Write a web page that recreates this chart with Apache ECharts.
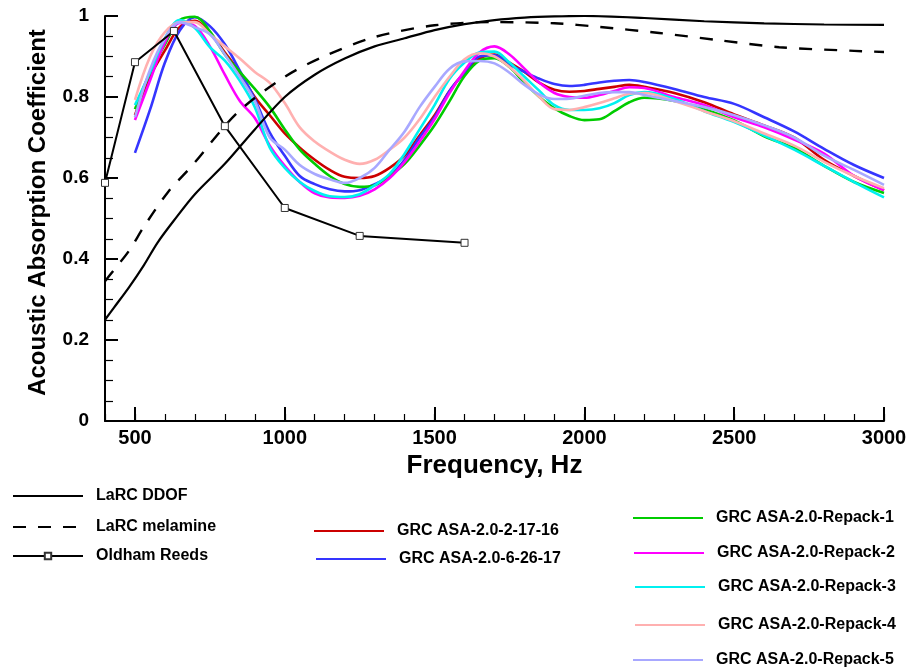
<!DOCTYPE html>
<html>
<head>
<meta charset="utf-8">
<script src="https://cdn.jsdelivr.net/npm/echarts@6/dist/echarts.min.js"></script>
<style>
  html, body { margin: 0; padding: 0; background: #fff; }
  #chart { width: 912px; height: 669px; }
</style>
</head>
<body>
<div id="chart"></div>
<script>
// Frequency grid (Hz) shared by the GRC ASA-2.0 measurements
const grcFreq = [500, 550, 600, 650, 700, 750, 800, 850, 900, 950, 1000, 1050, 1100, 1150, 1200, 1250,
  1300, 1350, 1400, 1450, 1500, 1550, 1600, 1650, 1700, 1750, 1800, 1850, 1900, 1950, 2000, 2050,
  2100, 2150, 2200, 2300, 2400, 2500, 2600, 2700, 2800, 2900, 3000];

const grc21716 = [0.755, 0.85, 0.915, 0.973, 0.988, 0.958, 0.91, 0.86, 0.80, 0.755, 0.71, 0.675, 0.645, 0.62, 0.603, 0.600,
  0.605, 0.625, 0.655, 0.705, 0.755, 0.815, 0.86, 0.895, 0.905, 0.885, 0.862, 0.835, 0.818, 0.813, 0.815, 0.82,
  0.825, 0.83, 0.825, 0.81, 0.787, 0.757, 0.73, 0.70, 0.645, 0.605, 0.57];

const grc62617 = [0.662, 0.768, 0.885, 0.965, 0.997, 0.975, 0.93, 0.865, 0.795, 0.712, 0.655, 0.605, 0.585, 0.572, 0.567, 0.570,
  0.585, 0.605, 0.645, 0.70, 0.75, 0.815, 0.86, 0.90, 0.903, 0.88, 0.862, 0.845, 0.832, 0.827, 0.83, 0.836,
  0.84, 0.842, 0.837, 0.82, 0.80, 0.783, 0.75, 0.715, 0.672, 0.632, 0.60];

const repack1 = [0.77, 0.86, 0.93, 0.99, 0.998, 0.962, 0.905, 0.862, 0.82, 0.775, 0.72, 0.67, 0.635, 0.605, 0.585, 0.578,
  0.582, 0.605, 0.635, 0.68, 0.73, 0.79, 0.852, 0.89, 0.896, 0.874, 0.835, 0.80, 0.772, 0.753, 0.743, 0.745,
  0.765, 0.787, 0.798, 0.79, 0.77, 0.742, 0.703, 0.674, 0.63, 0.59, 0.563];

const repack2 = [0.743, 0.84, 0.935, 0.983, 0.975, 0.925, 0.855, 0.79, 0.748, 0.68, 0.63, 0.59, 0.562, 0.552, 0.551, 0.556,
  0.572, 0.60, 0.64, 0.69, 0.745, 0.81, 0.865, 0.91, 0.925, 0.905, 0.87, 0.835, 0.81, 0.80, 0.798, 0.805,
  0.815, 0.824, 0.822, 0.80, 0.78, 0.75, 0.725, 0.695, 0.66, 0.605, 0.57];

const repack3 = [0.78, 0.86, 0.945, 0.99, 0.97, 0.923, 0.89, 0.84, 0.775, 0.675, 0.625, 0.59, 0.568, 0.555, 0.553, 0.56,
  0.582, 0.61, 0.66, 0.72, 0.78, 0.845, 0.885, 0.91, 0.912, 0.885, 0.85, 0.815, 0.78, 0.768, 0.768, 0.772,
  0.785, 0.805, 0.812, 0.795, 0.765, 0.738, 0.705, 0.67, 0.63, 0.59, 0.552];

const repack4 = [0.793, 0.899, 0.96, 0.985, 0.985, 0.955, 0.925, 0.895, 0.862, 0.835, 0.785, 0.725, 0.69, 0.665, 0.645, 0.635,
  0.645, 0.67, 0.70, 0.745, 0.80, 0.85, 0.893, 0.908, 0.90, 0.874, 0.84, 0.80, 0.77, 0.768, 0.775, 0.785,
  0.797, 0.808, 0.81, 0.79, 0.765, 0.74, 0.71, 0.68, 0.64, 0.605, 0.575];

const repack5 = [0.75, 0.867, 0.945, 0.985, 0.972, 0.955, 0.905, 0.85, 0.79, 0.70, 0.67, 0.632, 0.61, 0.597, 0.588, 0.60,
  0.625, 0.67, 0.715, 0.775, 0.825, 0.87, 0.888, 0.889, 0.883, 0.86, 0.83, 0.806, 0.795, 0.796, 0.803, 0.81,
  0.812, 0.812, 0.805, 0.79, 0.775, 0.755, 0.73, 0.70, 0.655, 0.62, 0.583];

// LaRC reference liners
const ddofFreq = [400, 430, 480, 530, 575, 630, 700, 800, 900, 1000, 1100, 1200, 1300, 1400, 1500, 1600,
  1700, 1800, 1900, 2000, 2200, 2400, 2600, 2800, 3000];
const ddofVals = [0.25, 0.28, 0.33, 0.385, 0.44, 0.495, 0.56, 0.635, 0.72, 0.80, 0.855, 0.895, 0.925, 0.945, 0.965, 0.98,
  0.99, 0.996, 0.999, 1.0, 0.995, 0.987, 0.982, 0.979, 0.978];

const melFreq = [400, 430, 480, 530, 610, 690, 840, 1000, 1130, 1300, 1500, 1700, 1900, 2050, 2250, 2450, 2650, 2900, 3000];
const melVals = [0.345, 0.373, 0.42, 0.48, 0.565, 0.63, 0.76, 0.85, 0.90, 0.948, 0.977, 0.985, 0.982, 0.973, 0.958, 0.94, 0.923, 0.914, 0.911];

// Oldham reeds, one-third octave bands
const reedFreq = [400, 500, 630, 800, 1000, 1250, 1600];
const reedVals = [0.588, 0.886, 0.963, 0.728, 0.526, 0.457, 0.44];

const xMajorTicks = [500, 1000, 1500, 2000, 2500, 3000];

const FONT = 'Liberation Sans';

function pairs(xs, ys) { return xs.map((x, i) => [x, ys[i]]); }

function grcSeries(name, vals, color) {
  return {
    name: name, type: 'line', data: pairs(grcFreq, vals),
    smooth: 0.35, symbol: 'none', z: 2,
    lineStyle: { color: color, width: 2.6 },
    itemStyle: { color: color }
  };
}

// One legend entry placed at (left, centre y); plain lines hide the legend marker
function legendEntry(name, left, cy, withMarker) {
  const item = { name: name };
  if (!withMarker) item.itemStyle = { opacity: 0 };
  return {
    orient: 'vertical', left: left, top: cy - 7, padding: 0,
    itemWidth: 70, itemHeight: 8, selectedMode: false,
    textStyle: { fontFamily: FONT, fontWeight: 'bold', fontSize: 16, color: '#000', padding: [0, 0, 0, 8] },
    data: [item]
  };
}

const chart = echarts.init(document.getElementById('chart'), null, { renderer: 'canvas' });

chart.setOption({
  animation: false,
  backgroundColor: '#fff',
  grid: { left: 105, right: 28, top: 16, bottom: 248, containLabel: false },
  xAxis: [{
    type: 'value', min: 400, max: 3000,
    name: 'Frequency, Hz', nameLocation: 'middle', nameGap: 23,
    nameTextStyle: { fontFamily: FONT, fontWeight: 'bold', fontSize: 26, color: '#000' },
    axisLine: { lineStyle: { color: '#000', width: 2 } },
    axisTick: { inside: true, length: 14, customValues: xMajorTicks, lineStyle: { color: '#000', width: 2 } },
    axisLabel: {
      customValues: xMajorTicks, margin: 7, fontFamily: FONT, fontWeight: 'bold', fontSize: 20, color: '#000',
      formatter: v => String(v)
    },
    splitLine: { show: false }
  }, {
    type: 'value', min: 400, max: 3000, interval: 100, position: 'bottom',
    axisLine: { show: false },
    axisTick: { inside: true, length: 7, lineStyle: { color: '#000', width: 1.2 } },
    axisLabel: { show: false },
    splitLine: { show: false }
  }],
  yAxis: {
    type: 'value', min: 0, max: 1, interval: 0.2,
    name: 'Acoustic Absorption Coefficient', nameLocation: 'middle', nameGap: 55,
    nameTextStyle: { fontFamily: FONT, fontWeight: 'bold', fontSize: 24, color: '#000', padding: [0, 0, 0, 12] },
    axisLine: { show: true, lineStyle: { color: '#000', width: 2 } },
    axisTick: { show: true, inside: true, length: 13, lineStyle: { color: '#000', width: 2 } },
    minorTick: { show: true, splitNumber: 4, length: 8, lineStyle: { color: '#000', width: 1.2 } },
    axisLabel: { margin: 16, fontFamily: FONT, fontWeight: 'bold', fontSize: 19, color: '#000' },
    splitLine: { show: false }
  },
  legend: [
    legendEntry('LaRC DDOF', 12, 495, false),
    legendEntry('LaRC melamine', 12, 526, false),
    legendEntry('Oldham Reeds', 12, 555, true),
    legendEntry('GRC ASA-2.0-2-17-16', 313, 530, false),
    legendEntry('GRC ASA-2.0-6-26-17', 315, 558, false),
    legendEntry('GRC ASA-2.0-Repack-1', 632, 517, false),
    legendEntry('GRC ASA-2.0-Repack-2', 633, 552, false),
    legendEntry('GRC ASA-2.0-Repack-3', 634, 586, false),
    legendEntry('GRC ASA-2.0-Repack-4', 634, 624, false),
    legendEntry('GRC ASA-2.0-Repack-5', 632, 659, false)
  ],
  series: [
    grcSeries('GRC ASA-2.0-2-17-16', grc21716, '#cc0000'),
    grcSeries('GRC ASA-2.0-6-26-17', grc62617, '#3535ff'),
    grcSeries('GRC ASA-2.0-Repack-1', repack1, '#00cc00'),
    grcSeries('GRC ASA-2.0-Repack-2', repack2, '#ff00ff'),
    grcSeries('GRC ASA-2.0-Repack-3', repack3, '#00f0f0'),
    grcSeries('GRC ASA-2.0-Repack-4', repack4, '#ffb0b0'),
    grcSeries('GRC ASA-2.0-Repack-5', repack5, '#a8a8ff'),
    {
      name: 'LaRC DDOF', type: 'line', data: pairs(ddofFreq, ddofVals),
      smooth: 0.3, symbol: 'none', z: 3,
      lineStyle: { color: '#000', width: 2.2 }, itemStyle: { color: '#000' }
    },
    {
      name: 'LaRC melamine', type: 'line', data: pairs(melFreq, melVals),
      smooth: 0.3, symbol: 'none', z: 3,
      lineStyle: { color: '#000', width: 2.4, type: [13, 12] }, itemStyle: { color: '#000' }
    },
    {
      name: 'Oldham Reeds', type: 'line', data: pairs(reedFreq, reedVals),
      symbol: 'rect', symbolSize: 7, showSymbol: true, z: 4,
      lineStyle: { color: '#000', width: 2 },
      itemStyle: { color: '#fff', borderColor: '#333', borderWidth: 1 }
    }
  ]
});
</script>
</body>
</html>
